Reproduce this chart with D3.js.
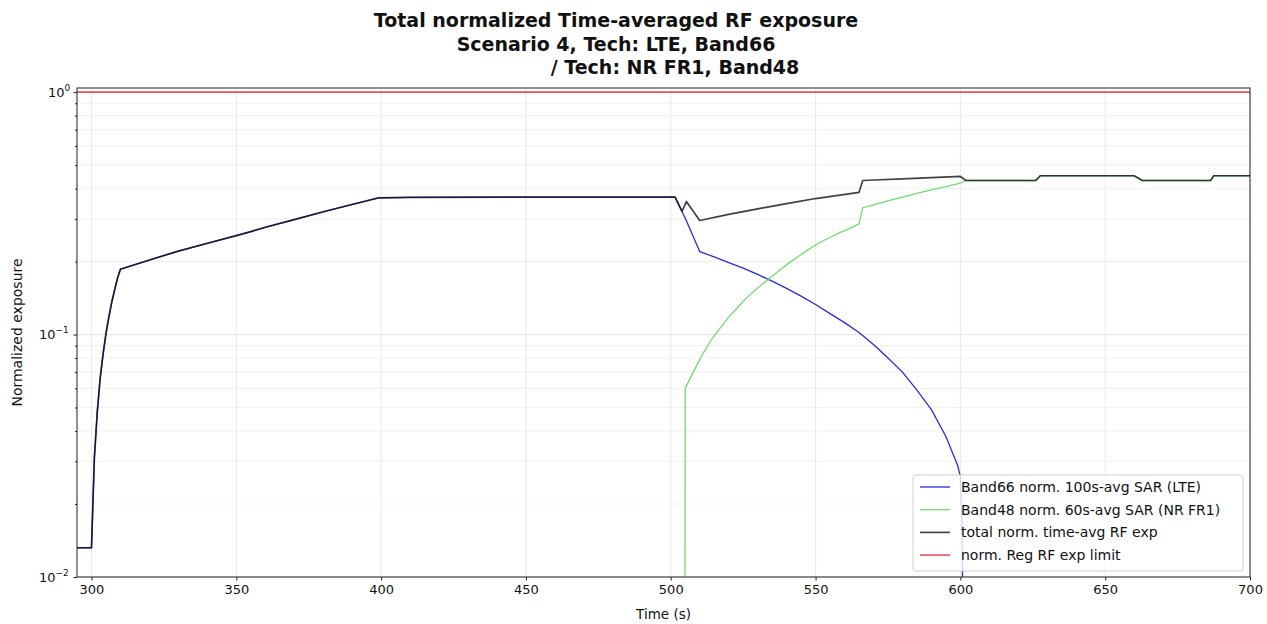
<!DOCTYPE html>
<html><head><meta charset="utf-8">
<script src="https://cdn.jsdelivr.net/npm/d3@7/dist/d3.min.js"></script>
<style>
body{margin:0;background:#fff;}
svg text{font-family:"DejaVu Sans",sans-serif;fill:#111;}
</style>
</head><body>
<svg id="chart" width="1267" height="624"></svg>
<script>
// ---------- data ----------
const titleLines = ["Total normalized Time-averaged RF exposure", "Scenario 4, Tech: LTE, Band66", "/ Tech: NR FR1, Band48"];
const xTicks = [300, 350, 400, 450, 500, 550, 600, 650, 700];
const yMajor = [0.01, 0.1, 1];
const yMajorExp = ["\u22122", "\u22121", "0"];
const yMinor = [0.02,0.03,0.04,0.05,0.06,0.07,0.08,0.09,0.2,0.3,0.4,0.5,0.6,0.7,0.8,0.9];
const legendLabels = ["Band66 norm. 100s-avg SAR (LTE)", "Band48 norm. 60s-avg SAR (NR FR1)", "total norm. time-avg RF exp", "norm. Reg RF exp limit"];

const lteTime = [295,300,301,302,303,304,305,306,307,308,309,310,320,330,340,350,355,360,370,380,390,399,410,450,501.5,503.9,505.4,510,515,520,525,530,535,540,545,550,555,560,565,570,575,580,585,590,595,599,600,600.5,601,601.5];
const lteVal  = [0.0132,0.0132,0.031,0.048,0.066,0.083,0.101,0.118,0.136,0.153,0.171,0.186,0.203,0.221,0.238,0.256,0.266,0.277,0.298,0.321,0.344,0.366,0.368,0.369,0.369,0.322,0.295,0.220,0.209,0.198,0.188,0.177,0.166,0.155,0.144,0.133,0.122,0.112,0.102,0.091,0.080,0.070,0.059,0.049,0.038,0.029,0.026,0.017,0.006,0.0005];

const nrTime = [504.7,505,508,511,514,517,520,523,526,529,532,535,538,541,544,547,550,553,556,559,562,565,566.3,570,575,580,585,590,595,600,601.5,602,626,627.6,660,662.8,686.4,687.5,700];
const nrVal  = [0.0001,0.060,0.071,0.083,0.095,0.106,0.118,0.129,0.141,0.152,0.163,0.174,0.186,0.198,0.210,0.222,0.234,0.245,0.255,0.265,0.275,0.286,0.334,0.343,0.356,0.369,0.382,0.395,0.408,0.421,0.430,0.432,0.432,0.452,0.452,0.432,0.432,0.452,0.452];

const totTime = [295,300,301,302,303,304,305,306,307,308,309,310,320,330,340,350,355,360,370,380,390,399,410,450,501.5,503.9,505.4,510,520,530,540,550,565,566.3,570,580,590,600,602,626,627.6,660,662.8,686.4,687.5,700];
const totVal  = [0.0132,0.0132,0.031,0.048,0.066,0.083,0.101,0.118,0.136,0.153,0.171,0.186,0.203,0.221,0.238,0.256,0.266,0.277,0.298,0.321,0.344,0.366,0.368,0.369,0.369,0.322,0.354,0.2955,0.313,0.330,0.347,0.364,0.386,0.432,0.434,0.439,0.444,0.449,0.432,0.432,0.452,0.452,0.432,0.432,0.452,0.452];

const limitTime = [295, 700];
const limitVal = [1.0, 1.0];

// ---------- layout ----------
const svg = d3.select("#chart");
const L = 77, R = 1250, T = 88, B = 577;
const x = d3.scaleLinear().domain([295, 700]).range([L, R]);
const y = d3.scaleLog().domain([0.01, 1.04]).range([B, T]);

// grid
const g = svg.append("g");
g.selectAll("line.ymin").data(yMinor).join("line")
  .attr("x1", L).attr("x2", R).attr("y1", d => y(d)).attr("y2", d => y(d))
  .attr("stroke", "#eeeeee").attr("stroke-width", 0.8);
g.selectAll("line.ymaj").data(yMajor).join("line")
  .attr("x1", L).attr("x2", R).attr("y1", d => y(d)).attr("y2", d => y(d))
  .attr("stroke", "#dedede").attr("stroke-width", 0.8);
g.selectAll("line.xmaj").data(xTicks).join("line")
  .attr("x1", d => x(d)).attr("x2", d => x(d)).attr("y1", T).attr("y2", B)
  .attr("stroke", "#e6e6e6").attr("stroke-width", 0.8);

// clip
svg.append("clipPath").attr("id", "clip").append("rect")
  .attr("x", L).attr("y", T).attr("width", R - L).attr("height", B - T);

const lineGen = d3.line().x(d => x(d[0])).y(d => y(Math.max(d[1], 1e-4)));
const series = [
  {t: lteTime, v: lteVal, color: "#2b2bdc", w: 1.3, op: 1},
  {t: nrTime, v: nrVal, color: "#6fdc6f", w: 1.3, op: 1},
  {t: totTime, v: totVal, color: "#111111", w: 1.7, op: 0.8},
  {t: limitTime, v: limitVal, color: "#ee3344", w: 1.6, op: 0.85}
];
const plot = svg.append("g").attr("clip-path", "url(#clip)");
series.forEach(s => {
  plot.append("path").datum(s.t.map((t, i) => [t, s.v[i]]))
    .attr("d", lineGen).attr("fill", "none")
    .attr("stroke", s.color).attr("stroke-width", s.w).attr("stroke-opacity", s.op)
    .attr("stroke-linejoin", "round");
});

// frame
svg.append("rect").attr("x", L).attr("y", T).attr("width", R - L).attr("height", B - T)
  .attr("fill", "none").attr("stroke", "#222").attr("stroke-width", 1);

// x axis
const xa = svg.append("g").attr("transform", `translate(0,${B})`)
  .call(d3.axisBottom(x).tickValues(xTicks).tickSize(3.5).tickPadding(4).tickFormat(d3.format("d")));
xa.select(".domain").remove();
xa.selectAll("text").attr("font-size", 13).style("font-family", "DejaVu Sans");
xa.selectAll("line").attr("stroke", "#222");

// y axis
const ya = svg.append("g").attr("transform", `translate(${L},0)`)
  .call(d3.axisLeft(y).tickValues(yMajor).tickSize(3.5).tickFormat(() => ""));
ya.select(".domain").remove();
ya.selectAll("line").attr("stroke", "#222");
svg.append("g").attr("transform", `translate(${L},0)`)
  .call(d3.axisLeft(y).tickValues(yMinor).tickSize(2).tickFormat(() => ""))
  .call(a => a.select(".domain").remove())
  .selectAll("line").attr("stroke", "#222");
const yl = svg.append("g").selectAll("text").data(yMajor).join("text")
  .attr("y", d => y(d) + 4.5).attr("font-size", 13);
yl.append("tspan").text("10");
yl.append("tspan").attr("dy", -6).attr("font-size", 9).text((d, i) => yMajorExp[i]);
yl.attr("text-anchor", "start").attr("x", (d, i) => L - 6 - (i === 2 ? 23 : 32));

// axis labels
svg.append("text").attr("x", (L + R) / 2).attr("y", 619).attr("text-anchor", "middle")
  .attr("font-size", 13.5).text("Time (s)");
svg.append("text").attr("transform", `translate(22,${(T + B) / 2}) rotate(-90)`)
  .attr("text-anchor", "middle").attr("font-size", 14).text("Normalized exposure");

// title
const titleX = [616, 616, 675];
titleLines.forEach((s, i) => {
  svg.append("text").attr("x", titleX[i]).attr("y", 27 + i * 23.5).attr("text-anchor", "middle")
    .attr("font-size", 19).attr("font-weight", "bold").text(s);
});

// legend
const lg = svg.append("g");
lg.append("rect").attr("x", 913).attr("y", 475).attr("width", 330).attr("height", 96).attr("rx", 3)
  .attr("fill", "#fff").attr("fill-opacity", 0.8).attr("stroke", "#d0d0d0");
legendLabels.forEach((s, i) => {
  const yy = 487 + i * 22.7;
  lg.append("line").attr("x1", 920).attr("x2", 950).attr("y1", yy).attr("y2", yy)
    .attr("stroke", series[i].color).attr("stroke-width", series[i].w).attr("stroke-opacity", series[i].op);
  lg.append("text").attr("x", 961).attr("y", yy + 5).attr("font-size", 14).text(s);
});
</script>
</body></html>
